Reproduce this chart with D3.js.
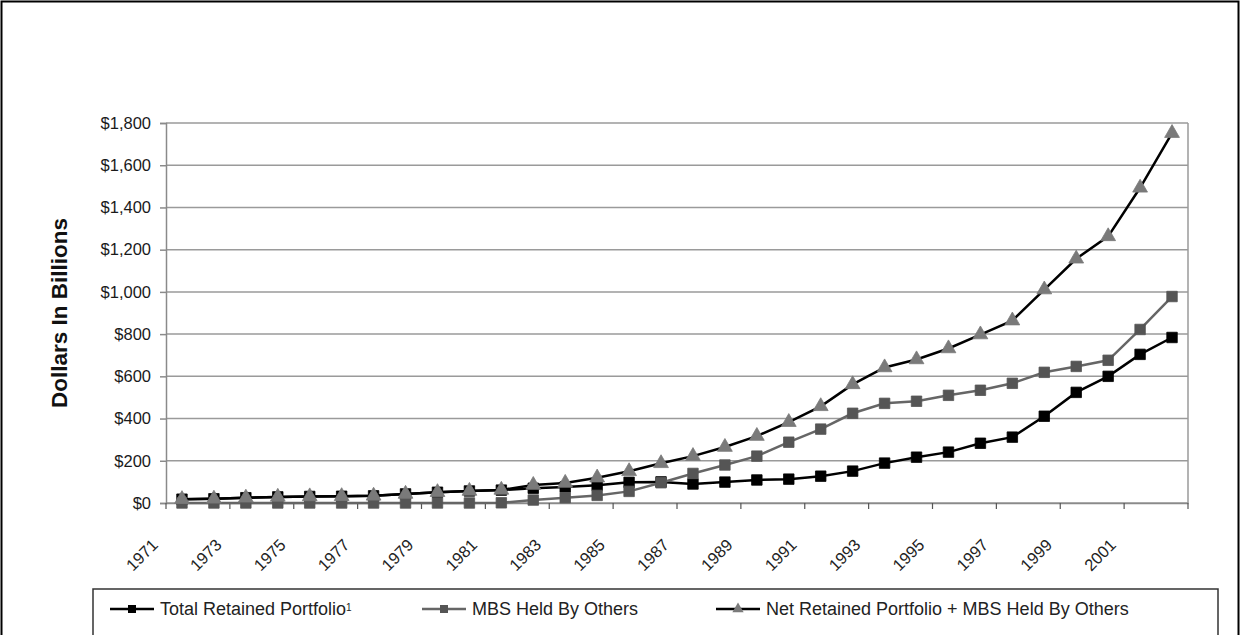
<!DOCTYPE html>
<html>
<head>
<meta charset="utf-8">
<script src="https://cdn.jsdelivr.net/npm/d3@7"></script>
<style>
  body { margin: 0; background: #fff; }
  svg { display: block; font-family: "Liberation Sans", Arial, sans-serif; }
</style>
</head>
<body>
<div id="chart"></div>
<script>
// DATA //
const years = d3.range(1971, 2003).map(String)

// $ billions
const totalRetained = [18, 20, 25, 29, 31, 32, 34, 43, 51, 57, 61, 70, 76, 84, 98, 100, 90, 99, 109, 113, 127, 151, 189, 217, 241, 283, 312, 411, 524, 600, 704, 784]
const mbsHeldByOthers = [0, 0, 0, 0, 0, 0, 0, 0, 0, 0, 1, 14, 25, 36, 55, 96, 140, 180, 222, 288, 350, 425, 472, 482, 510, 534, 567, 619, 647, 676, 822, 978]
const netPlusMbs = [18, 20, 25, 29, 31, 32, 34, 43, 51, 57, 62, 85, 95, 120, 150, 188, 222, 265, 317, 383, 458, 562, 642, 680, 732, 798, 864, 1011, 1157, 1263, 1493, 1752]

const yTicks = [0, 200, 400, 600, 800, 1000, 1200, 1400, 1600, 1800]
const xLabelYears = years.filter((d, i) => i % 2 == 0)

const seriesNames = ["Total Retained Portfolio", "MBS Held By Others", "Net Retained Portfolio + MBS Held By Others"]

// GLOBAL VARIABLES //
const width = 1252
const height = 635

let dimensions = {
    margin: { top: 123, left: 166 },
    right: 1188,
    bottom: 503,
}
dimensions.boundedWidth = dimensions.right - dimensions.margin.left
dimensions.boundedHeight = dimensions.bottom - dimensions.margin.top

const series = [
    { name: seriesNames[0], values: totalRetained, line: "#000", lineWidth: 2.5, marker: "square", fill: "#000" },
    { name: seriesNames[1], values: mbsHeldByOthers, line: "#666", lineWidth: 2.5, marker: "square", fill: "#555" },
    { name: seriesNames[2], values: netPlusMbs, line: "#000", lineWidth: 2.5, marker: "triangle", fill: "#7a7a7a" },
]

const svg = d3.select("#chart")
    .append("svg")
    .attr("width", width)
    .attr("height", height)

// outer frame
svg.append("rect")
    .attr("x", 1.5).attr("y", 1.5)
    .attr("width", 1237).attr("height", 660)
    .attr("fill", "none")
    .attr("stroke", "#000")
    .attr("stroke-width", 2)

const bounds = svg.append("g")
    .attr("transform", `translate(${dimensions.margin.left}, ${dimensions.margin.top})`)

// scales
const xScale = d3.scaleBand()
    .domain(years)
    .range([0, dimensions.boundedWidth])

const yScale = d3.scaleLinear()
    .domain([0, 1800])
    .range([dimensions.boundedHeight, 0])

// gridlines
bounds.append("g")
    .selectAll("line")
    .data(yTicks)
    .join("line")
    .attr("x1", 0)
    .attr("x2", dimensions.boundedWidth)
    .attr("y1", d => yScale(d))
    .attr("y2", d => yScale(d))
    .attr("stroke", "#9a9a9a")
    .attr("stroke-width", 1.5)

// right border of plot area
bounds.append("line")
    .attr("x1", dimensions.boundedWidth).attr("x2", dimensions.boundedWidth)
    .attr("y1", 0).attr("y2", dimensions.boundedHeight)
    .attr("stroke", "#9a9a9a")
    .attr("stroke-width", 1.5)

// y axis
const yAxisGenerator = d3.axisLeft(yScale)
    .tickValues(yTicks)
    .tickSize(6)
    .tickPadding(9)
    .tickFormat(d => "$" + d3.format(",")(d))

const yAxis = bounds.append("g").call(yAxisGenerator)
yAxis.select(".domain").attr("stroke", "#8a8a8a").attr("stroke-width", 1.5)
yAxis.selectAll(".tick line").attr("stroke", "#8a8a8a").attr("stroke-width", 1.5)
yAxis.selectAll("text")
    .attr("fill", "#1a1a1a")
    .style("font-size", "16.5px")

// x axis: ticks between every second category
const xAxisGenerator = d3.axisBottom(xScale)
    .tickValues([])
    .tickSizeOuter(0)

const xAxis = bounds.append("g")
    .attr("transform", `translate(0, ${dimensions.boundedHeight})`)
    .call(xAxisGenerator)
xAxis.select(".domain").attr("stroke", "#8a8a8a").attr("stroke-width", 1.5)

xAxis.selectAll(".cat-tick")
    .data(years.filter((d, i) => i % 2 == 0).concat([null]))
    .join("line")
    .attr("class", "cat-tick")
    .attr("x1", (d, i) => i * 2 * xScale.step())
    .attr("x2", (d, i) => i * 2 * xScale.step())
    .attr("y1", 0)
    .attr("y2", 6)
    .attr("stroke", "#555")
    .attr("stroke-width", 1.2)

xAxis.selectAll(".year-label")
    .data(xLabelYears)
    .join("text")
    .attr("class", "year-label")
    .attr("text-anchor", "end")
    .attr("transform", d => `translate(${xScale(d) + xScale.bandwidth() / 2 - 23}, 43) rotate(-45)`)
    .attr("fill", "#222")
    .style("font-size", "16.5px")
    .text(d => d)

// y label
svg.append("text")
    .attr("text-anchor", "middle")
    .attr("transform", `translate(67, ${dimensions.margin.top + dimensions.boundedHeight / 2}) rotate(-90)`)
    .style("font-size", "22.5px")
    .style("font-weight", "bold")
    .attr("fill", "#111")
    .text("Dollars In Billions")

// lines and markers
const lineGenerator = d3.line()
    .x((d, i) => xScale(years[i]) + xScale.bandwidth() / 2)
    .y(d => yScale(d))

const squareSym = d3.symbol().type(d3.symbolSquare).size(110)
const triSym = d3.symbol().type(d3.symbolTriangle).size(95)

series.forEach(s => {
    const g = bounds.append("g")
    g.append("path")
        .datum(s.values)
        .attr("d", lineGenerator)
        .attr("fill", "none")
        .attr("stroke", s.line)
        .attr("stroke-width", s.lineWidth)

    g.selectAll("path.marker")
        .data(s.values)
        .join("path")
        .attr("class", "marker")
        .attr("d", s.marker == "square" ? squareSym() : triSym())
        .attr("transform", (d, i) => `translate(${xScale(years[i]) + xScale.bandwidth() / 2}, ${yScale(d)})`)
        .attr("fill", s.fill)
        .attr("stroke", s.fill)
        .attr("stroke-width", 0.8)
})

// LEGEND //
const legend = svg.append("g")
legend.append("rect")
    .attr("x", 93).attr("y", 589)
    .attr("width", 1125).attr("height", 70)
    .attr("fill", "#fff")
    .attr("stroke", "#333")
    .attr("stroke-width", 1.5)

const legendX = [110, 422, 716]
series.forEach((s, i) => {
    const item = legend.append("g")
        .attr("transform", `translate(${legendX[i]}, 609)`)
    item.append("line")
        .attr("x1", 0).attr("x2", 44)
        .attr("stroke", s.line)
        .attr("stroke-width", 2.5)
    item.append("path")
        .attr("d", s.marker == "square" ? d3.symbol().type(d3.symbolSquare).size(64)() : d3.symbol().type(d3.symbolTriangle).size(55)())
        .attr("transform", "translate(22, 0)")
        .attr("fill", s.fill)
    const t = item.append("text")
        .attr("x", 50)
        .attr("dy", "0.35em")
        .attr("fill", "#222")
        .style("font-size", "18px")
        .text(s.name)
    if (i == 0) {
        t.append("tspan")
            .attr("dy", "-0.45em")
            .style("font-size", "10px")
            .text("1")
    }
})
</script>
</body>
</html>
